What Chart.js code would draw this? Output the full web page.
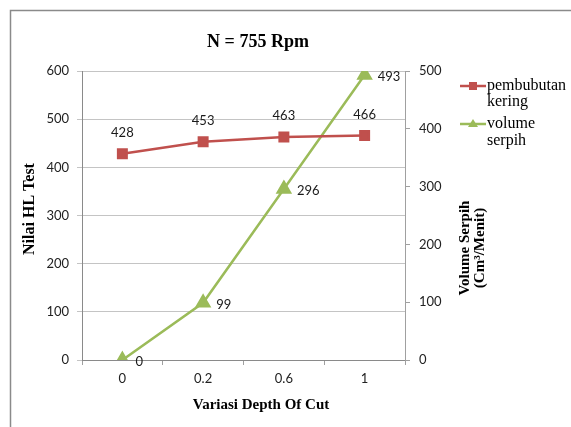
<!DOCTYPE html>
<html><head><meta charset="utf-8">
<script src="https://cdn.jsdelivr.net/npm/chart.js@4.4.0/dist/chart.umd.min.js"></script>
<style>html,body{margin:0;padding:0;background:#fff;}#wrap{width:571px;height:427px;position:relative;}</style>
</head><body><div id="wrap"><canvas id="c" width="571" height="427"></canvas></div>
<script>
const categories = ['0', '0.2', '0.6', '1'];
const hardness = [428, 453, 463, 466];     // pembubutan kering (left axis)
const volume = [0, 99, 296, 493];          // volume serpih (right axis)
const leftTicks = [0, 100, 200, 300, 400, 500, 600];
const rightTicks = [0, 100, 200, 300, 400, 500];

const RED = '#C0504D', GREEN = '#9BBB59';
const serif = '"Liberation Serif", "Times New Roman", serif';
const sans = 'Lato, Calibri, sans-serif';

const deco = {
  id: 'deco',
  beforeDraw(chart) {
    const c = chart.ctx;
    c.save();
    c.fillStyle = '#fff'; c.fillRect(0, 0, chart.width, chart.height);
    c.strokeStyle = '#8a8a8a'; c.lineWidth = 1.5;
    c.beginPath(); c.moveTo(10.5, 427); c.lineTo(10.5, 10.5); c.lineTo(571, 10.5); c.stroke();
    c.restore();
  },
  afterDraw(chart) {
    const c = chart.ctx;
    c.save();
    c.fillStyle = '#000';
    c.textAlign = 'center'; c.textBaseline = 'middle';
    c.font = 'bold 18px ' + serif;
    c.fillText('N = 755 Rpm', 258, 42);
    c.font = 'bold 15px ' + serif;
    c.fillText('Variasi Depth Of Cut', 261, 405);
    c.save(); c.translate(30, 209); c.rotate(-Math.PI / 2);
    c.font = 'bold 16px ' + serif;
    c.fillText('Nilai HL Test', 0, 0); c.restore();
    c.save(); c.translate(472, 248); c.rotate(-Math.PI / 2);
    c.font = 'bold 15px ' + serif;
    c.fillText('Volume Serpih', 0, -7);
    c.fillText('(Cm\u00B3/Menit)', 0, 8); c.restore();
    // legend
    c.textAlign = 'left';
    c.font = '16px ' + serif;
    c.lineWidth = 2.5;
    c.strokeStyle = RED; c.beginPath(); c.moveTo(460, 86); c.lineTo(486, 86); c.stroke();
    c.fillStyle = RED; c.fillRect(469, 82, 8, 8);
    c.fillStyle = '#000';
    c.fillText('pembubutan', 487, 86);
    c.fillText('kering', 487, 102);
    c.strokeStyle = GREEN; c.beginPath(); c.moveTo(460, 124); c.lineTo(486, 124); c.stroke();
    c.fillStyle = GREEN; c.beginPath(); c.moveTo(473, 119); c.lineTo(478, 127); c.lineTo(468, 127); c.closePath(); c.fill();
    c.fillStyle = '#000';
    c.fillText('volume', 487, 124);
    c.fillText('serpih', 487, 141);
    // data labels
    c.font = '13px ' + sans;
    c.fillStyle = '#1a1a1a';
    const m0 = chart.getDatasetMeta(0), m1 = chart.getDatasetMeta(1);
    c.textAlign = 'center';
    m0.data.forEach((p, i) => c.fillText(String(hardness[i]), p.x, p.y - 21));
    c.textAlign = 'left';
    m1.data.forEach((p, i) => c.fillText(String(volume[i]), p.x + 13, p.y + 2));
    c.restore();
  }
};

new Chart(document.getElementById('c'), {
  type: 'line',
  data: {
    labels: categories,
    datasets: [
      { label: 'pembubutan kering', data: hardness, yAxisID: 'y', borderColor: RED, backgroundColor: RED,
        borderWidth: 2.5, pointStyle: 'rect', pointRadius: 6, pointHoverRadius: 6, tension: 0 },
      { label: 'volume serpih', data: volume, yAxisID: 'y1', borderColor: GREEN, backgroundColor: GREEN,
        borderWidth: 2.5, pointStyle: 'triangle', pointRadius: 7, pointHoverRadius: 7, tension: 0 }
    ]
  },
  options: {
    responsive: false, animation: false, devicePixelRatio: 1,
    layout: { padding: { left: 0, right: 0, top: 71, bottom: 0 } },
    plugins: { legend: { display: false }, title: { display: false }, tooltip: { enabled: false } },
    scales: {
      x: {
        type: 'category', offset: true,
        grid: { offset: true, drawOnChartArea: false, color: '#a0a0a0', tickLength: 5 },
        border: { color: '#8a8a8a', width: 1 },
        ticks: { font: { family: sans, size: 13 }, color: '#222', padding: 6, maxRotation: 0 },
        afterFit(s) { s.height = 67; }
      },
      y: {
        position: 'left', min: 0, max: 600,
        afterBuildTicks(s) { s.ticks = leftTicks.map(v => ({ value: v })); },
        grid: { color: '#c4c4c4', tickLength: 5 },
        border: { color: '#8a8a8a', width: 1 },
        ticks: { font: { family: sans, size: 13 }, color: '#222', padding: 8 },
        afterFit(s) { s.width = 82; }
      },
      y1: {
        position: 'right', min: 0, max: 500,
        afterBuildTicks(s) { s.ticks = rightTicks.map(v => ({ value: v })); },
        grid: { drawOnChartArea: false, color: '#a0a0a0', tickLength: 5 },
        border: { color: '#a0a0a0', width: 1 },
        ticks: { font: { family: sans, size: 13 }, color: '#222', padding: 9 },
        afterFit(s) { s.width = 166; }
      }
    }
  },
  plugins: [deco]
});
</script></body></html>
